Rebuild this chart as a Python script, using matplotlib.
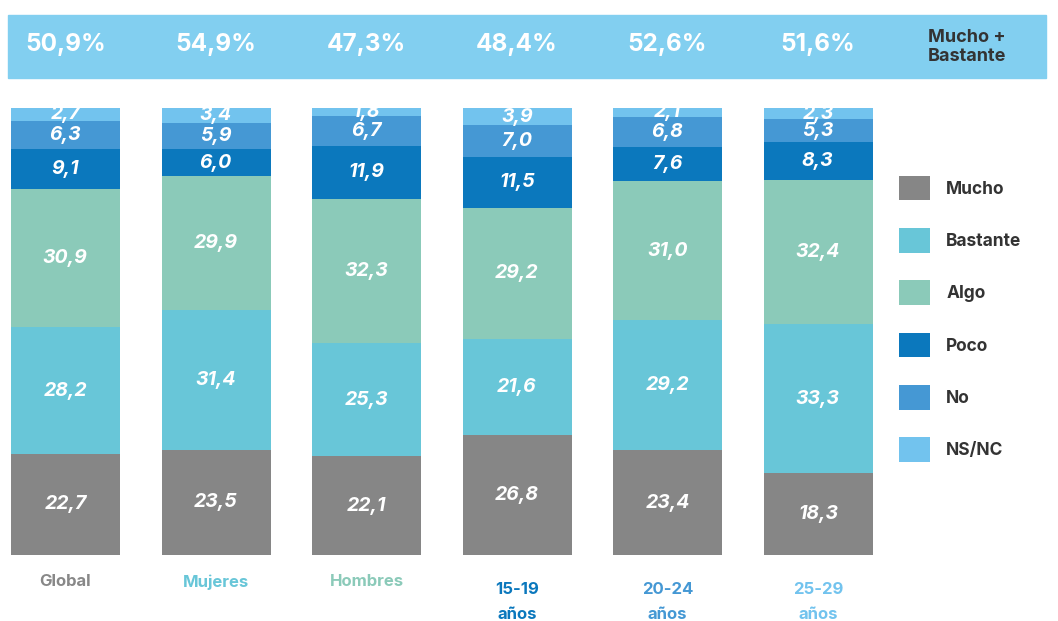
import matplotlib.pyplot as plt
import matplotlib.transforms as mtransforms
import numpy as np
from matplotlib.patches import Rectangle

# Datos por grupo (porcentajes)
grupos = ['Global', 'Mujeres', 'Hombres', '15-19\naños', '20-24\naños', '25-29\naños']
respuestas = ['Mucho', 'Bastante', 'Algo', 'Poco', 'No', 'NS/NC']
mucho = [22.7, 23.5, 22.1, 26.8, 23.4, 18.3]
bastante = [28.2, 31.4, 25.3, 21.6, 29.2, 33.3]
algo = [30.9, 29.9, 32.3, 29.2, 31.0, 32.4]
poco = [9.1, 6.0, 11.9, 11.5, 7.6, 8.3]
no = [6.3, 5.9, 6.7, 7.0, 6.8, 5.3]
nsnc = [2.7, 3.4, 1.8, 3.9, 2.1, 2.3]
mucho_bastante = [50.9, 54.9, 47.3, 48.4, 52.6, 51.6]

colores = ['#868686', '#68C6D8', '#8BCAB9', '#0B78BD', '#4598D4', '#72C3EE']
colores_grupo = ['#888888', '#68C6D8', '#8BCAB9', '#0B78BD', '#4598D4', '#72C3EE']

plt.rcParams['font.family'] = ['Inter', 'DejaVu Sans']


def fmt(v):
    return f'{v:.1f}'.replace('.', ',')


fig = plt.figure(figsize=(10.58, 6.21), dpi=100)

# Franja superior con Mucho + Bastante
W, H = 1058, 621
fig.patches.append(Rectangle((8 / W, 1 - 78 / H), (1046 - 8) / W, 63 / H,
                             transform=fig.transFigure, color='#82CFF0', zorder=-1))

ax = fig.add_axes([0, (H - 555) / H, 1, 447 / H])
x = np.arange(len(grupos))
ancho = 109 / 150.5
series = [mucho, bastante, algo, poco, no, nsnc]
base = np.zeros(len(grupos))
handles = []
for nombre, vals, col in zip(respuestas, series, colores):
    vals = np.array(vals)
    b = ax.bar(x, vals, ancho, bottom=base, color=col, label=nombre)
    handles.append(b)
    for xi, bi, vi in zip(x, base, vals):
        ax.text(xi, bi + vi / 2, fmt(vi), ha='center', va='center', color='white',
                fontsize=14, fontweight='bold', fontstyle='italic')
    base += vals

ax.set_xlim(-65.5 / 150.5, (W - 65.5) / 150.5)
ax.set_ylim(0, 100)
ax.axis('off')

trans = mtransforms.blended_transform_factory(ax.transData, fig.transFigure)

# Valores de la franja
for xi, v in zip(x, mucho_bastante):
    ax.text(xi, 1 - 45 / H, fmt(v) + '%', transform=trans,
            ha='center', va='center', color='white', fontsize=17.5, fontweight='bold')
fig.text(967 / W, 1 - 47 / H, 'Mucho +\nBastante', ha='center', va='center',
         color='#333333', fontsize=13, fontweight='bold', linespacing=1.15)

# Etiquetas de grupo (las de dos líneas van algo más abajo)
for xi, g, c in zip(x, grupos, colores_grupo):
    top = 582 if '\n' in g else 574
    ax.text(xi, 1 - top / H, g, transform=trans, ha='center', va='top', color=c,
            fontsize=12, fontweight='bold', linespacing=1.8)

fig.legend(handles=handles, labels=respuestas, loc='upper left',
           bbox_to_anchor=(883 / W, 1 - 160 / H), frameon=False,
           prop={'weight': 'bold', 'size': 12.5},
           handlelength=1.8, handleheight=1.8, labelspacing=1.6,
           handletextpad=0.95, labelcolor='#333333')

fig.savefig('out.png', dpi=100)
